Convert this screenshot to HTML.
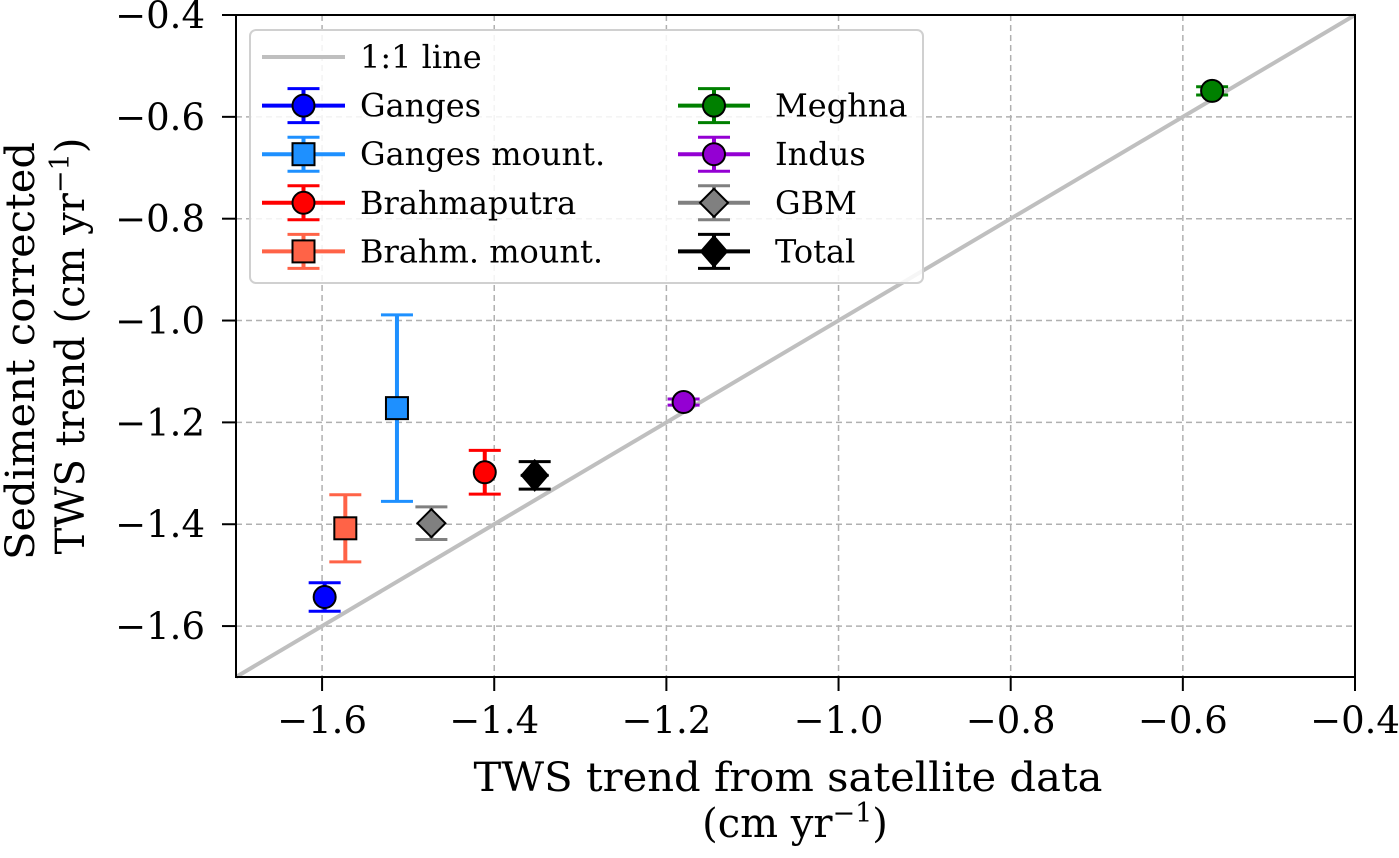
<!DOCTYPE html>
<html><head><meta charset="utf-8"><style>
body{margin:0;background:#fff;}
text{font-family:"DejaVu Serif","Liberation Serif",serif;fill:#000;}
</style></head><body>
<svg id="chart" width="1399" height="853" xmlns="http://www.w3.org/2000/svg">
<g id="grid"></g>
<g id="oneone"></g>
<g id="marks"></g>
<rect x="236" y="15" width="1119" height="662" fill="none" stroke="#000" stroke-width="2"/>
<g id="ticks"></g>
<text x="788" y="791" font-size="40" text-anchor="middle" textLength="629" lengthAdjust="spacingAndGlyphs">TWS trend from satellite data</text>
<text x="795" y="837" font-size="40" text-anchor="middle">(cm yr<tspan font-size="27" dy="-15">−1</tspan><tspan dy="15">)</tspan></text>
<g transform="translate(34,351) rotate(-90)"><text x="0" y="0" font-size="40" text-anchor="middle" textLength="418" lengthAdjust="spacingAndGlyphs">Sediment corrected</text></g>
<g transform="translate(84,346) rotate(-90)"><text x="0" y="0" font-size="40" text-anchor="middle">TWS trend (cm yr<tspan font-size="27" dy="-15">−1</tspan><tspan dy="15">)</tspan></text></g>
<g id="legend"></g>
</svg>
<script>
const names=["Ganges","Ganges mount.","Brahmaputra","Brahm. mount.","Meghna","Indus","GBM","Total"];
const xVals=[-1.597,-1.513,-1.411,-1.573,-0.566,-1.180,-1.473,-1.353];
const yVals=[-1.543,-1.172,-1.298,-1.408,-0.549,-1.160,-1.398,-1.304];
const yErr=[0.028,0.183,0.043,0.066,0.008,0.006,0.032,0.027];
const colors=["#0000ff","#1e90ff","#ff0000","#ff6347","#008000","#9400d3","#808080","#000000"];
const shapes=["o","s","o","s","o","o","d","D"];
const xTicks=[-1.6,-1.4,-1.2,-1.0,-0.8,-0.6,-0.4];
const yTicks=[-1.6,-1.4,-1.2,-1.0,-0.8,-0.6,-0.4];
const X=v=>236+(v+1.7)/1.3*1119;
const Y=v=>15+(-0.4-v)/1.3*662;
const NS="http://www.w3.org/2000/svg";
function mk(tag,attrs,parent){const e=document.createElementNS(NS,tag);for(const k in attrs)e.setAttribute(k,attrs[k]);parent.appendChild(e);return e;}
const grid=document.getElementById('grid'),ticks=document.getElementById('ticks');
xTicks.forEach(t=>{
 const g=mk('line',{x1:X(t),x2:X(t),y1:15,y2:677,stroke:'#b0b0b0','stroke-width':1.5,'stroke-dasharray':'6,4'},grid);
 
 
 mk('line',{x1:X(t),x2:X(t),y1:677,y2:691,stroke:'#000','stroke-width':2},ticks);
 const tx=mk('text',{x:X(t),y:733,'font-size':37,'text-anchor':'middle'},ticks);
 tx.textContent=(t<0?'−':'')+Math.abs(t).toFixed(1);
 
 
});
yTicks.forEach(t=>{
 const g=mk('line',{x1:236,x2:1355,y1:Y(t),y2:Y(t),stroke:'#b0b0b0','stroke-width':1.5,'stroke-dasharray':'6,4'},grid);
 
 
 mk('line',{x1:222,x2:236,y1:Y(t),y2:Y(t),stroke:'#000','stroke-width':2},ticks);
 const tx=mk('text',{x:205,y:Y(t)+13,'font-size':37,'text-anchor':'end'},ticks);
 tx.textContent=(t<0?'−':'')+Math.abs(t).toFixed(1);
 
 
});
const ol=mk('line',{x1:X(-1.7),y1:Y(-1.7),x2:X(-0.4),y2:Y(-0.4),stroke:'#bfbfbf','stroke-width':4},document.getElementById('oneone'));
function marker(shape,cx,cy,col,parent){
 if(shape==='o')return mk('circle',{cx,cy,r:11,fill:col,stroke:'#000','stroke-width':2},parent);
 if(shape==='s')return mk('rect',{x:cx-11,y:cy-11,width:22,height:22,fill:col,stroke:'#000','stroke-width':2},parent);
 if(shape==='d')return mk('polygon',{points:`${cx},${cy-14} ${cx+14},${cy} ${cx},${cy+14} ${cx-14},${cy}`,fill:col,stroke:'#000','stroke-width':2},parent);
 return mk('polygon',{points:`${cx},${cy-15} ${cx+13},${cy} ${cx},${cy+15} ${cx-13},${cy}`,fill:col,stroke:'#000','stroke-width':2},parent);
}
function errbar(cx,y1,y2,col,parent){
 mk('line',{x1:cx,x2:cx,y1,y2,stroke:col,'stroke-width':4},parent);
 mk('line',{x1:cx-16,x2:cx+16,y1,y2:y1,stroke:col,'stroke-width':3},parent);
 mk('line',{x1:cx-16,x2:cx+16,y1:y2,y2,stroke:col,'stroke-width':3},parent);
}
const marks=document.getElementById('marks');
names.forEach((n,i)=>{
 const g=mk('g',{},marks);
 
 
 const cx=X(xVals[i]),cy=Y(yVals[i]);
 errbar(cx,Y(yVals[i]+yErr[i]),Y(yVals[i]-yErr[i]),colors[i],g);
 if(i===7)mk('line',{x1:cx-14,x2:cx+14,y1:cy,y2:cy,stroke:'#000','stroke-width':3},g);
 marker(shapes[i],cx,cy,colors[i],g);
});
const lg=document.getElementById('legend');
mk('rect',{x:250,y:30,width:673,height:253,rx:6,fill:'#fff','fill-opacity':0.85,stroke:'#d0d0d0','stroke-width':2},lg);
const l0=mk('g',{},lg);


mk('line',{x1:262,x2:345,y1:57,y2:57,stroke:'#bfbfbf','stroke-width':4},l0);
mk('text',{x:360,y:68,'font-size':32},l0).textContent='1:1 line';
names.forEach((n,i)=>{
 const col=i<4?0:1,row=i<4?i+1:i-4+1;
 const x1=col?678:262,x2=col?750:345,tx=col?775:360,cy=57+row*48.6;
 const g=mk('g',{},lg);
 
 
 const cx=(x1+x2)/2;
 mk('line',{x1,x2,y1:cy,y2:cy,stroke:colors[i],'stroke-width':4},g);
 errbar(cx,cy-17,cy+17,colors[i],g);
 marker(shapes[i],cx,cy,colors[i],g);
 mk('text',{x:tx,y:cy+11,'font-size':32},g).textContent=n;
});
</script>
</body></html>
